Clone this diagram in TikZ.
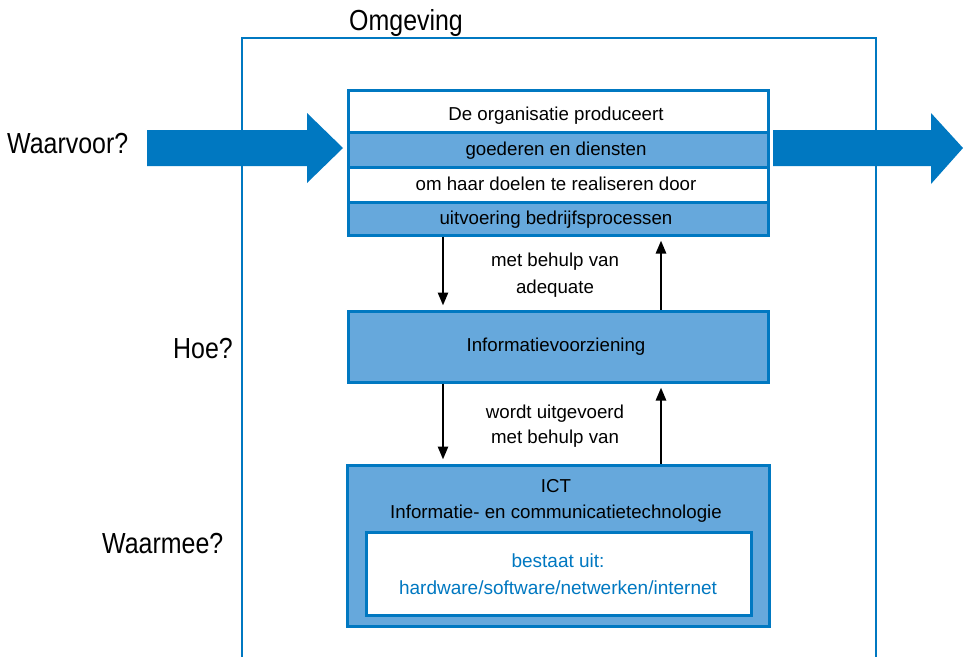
\documentclass[tikz,border=0pt]{standalone}
\usepackage{fontspec}
\setmainfont{Liberation Sans}
\newfontfamily\labelfont{Liberation Sans}[FakeStretch=0.86]
\usetikzlibrary{arrows.meta}

\definecolor{ictblue}{RGB}{0,120,193}
\definecolor{ictlight}{RGB}{102,168,220}

\tikzset{
  frameline/.style={draw=ictblue, line width=2.5pt},
  rowbox/.style={draw=ictblue, line width=3pt, minimum width=420pt, inner sep=0pt},
  boxtxt/.style={font=\fontsize{18.7}{22}\selectfont, anchor=base, inner sep=0pt},
  bluetxt/.style={boxtxt, text=ictblue, font=\fontsize{19}{22}\selectfont},
  biglabel/.style={font=\labelfont\fontsize{29}{34}\selectfont, anchor=base west, inner sep=0pt},
  bigarrow/.style={fill=ictblue},
  conn/.style={-{Triangle[length=13pt,width=10pt]}, line width=2.6pt, black, shorten >=4pt},
}

\begin{document}
\begin{tikzpicture}[x=1pt,y=-1pt]
\useasboundingbox (0,0) rectangle (963,656);

% environment frame (open at the bottom)
\draw[frameline] (242,660) -- (242,38) -- (876,38) -- (876,660);
\node[biglabel] (omg) at (349,30) {Omgeving};

% question labels
\node[biglabel] (waarvoor) at (7,153) {Waarvoor?};
\node[biglabel] (hoe) at (173,358) {Hoe?};
\node[biglabel] (waarmee) at (102,553) {Waarmee?};

% input and output arrows
\fill[bigarrow] (147,130) -- (307,130) -- (307,113) -- (343,148) -- (307,183) -- (307,166) -- (147,166) -- cycle;
\fill[bigarrow] (773,130) -- (931,130) -- (931,113) -- (963,148) -- (931,184) -- (931,166) -- (773,166) -- cycle;

% organisation stack
\node[rowbox, fill=white,    minimum height=42pt] (r1) at (558,111) {};
\node[rowbox, fill=ictlight, minimum height=35pt] (r2) at (558,149.5) {};
\node[rowbox, fill=white,    minimum height=35pt] (r3) at (558,184.5) {};
\node[rowbox, fill=ictlight, minimum height=33pt] (r4) at (558,218.5) {};
\node[boxtxt] (t1) at (556,120) {De organisatie produceert};
\node[boxtxt] (t2) at (556,155) {goederen en diensten};
\node[boxtxt] (t3) at (556,190) {om haar doelen te realiseren door};
\node[boxtxt] (t4) at (556,224) {uitvoering bedrijfsprocessen};

% information provision
\node[rowbox, fill=ictlight, minimum height=71pt] (info) at (558,346.5) {};
\node[boxtxt] (tinfo) at (556,351.7) {Informatievoorziening};

% ICT
\node[rowbox, fill=ictlight, minimum width=422pt, minimum height=161pt] (ict) at (558,545.5) {};
\node[boxtxt] (tict1) at (556,492) {ICT};
\node[boxtxt] (tict2) at (556,518) {Informatie- en communicatietechnologie};
\node[rowbox, fill=white, minimum width=385pt, minimum height=83pt] (parts) at (558.5,573.5) {};
\node[bluetxt] (tparts1) at (558,567) {bestaat uit:};
\node[bluetxt] (tparts2) at (558,594) {hardware/software/netwerken/internet};

% connectors between the layers
\draw[conn] ([xshift=-115pt]r4.south) -- ([xshift=-115pt]info.north);
\draw[conn] ([xshift=103pt]info.north) -- ([xshift=103pt]r4.south);
\draw[conn] ([xshift=-115pt]info.south) -- ([xshift=-115pt]ict.north);
\draw[conn] ([xshift=103pt]ict.north) -- ([xshift=103pt]info.south);

\node[boxtxt] (m1) at (555,266.7) {met behulp van};
\node[boxtxt] (m2) at (555,293) {adequate};
\node[boxtxt] (m3) at (555,418) {wordt uitgevoerd};
\node[boxtxt] (m4) at (555,443) {met behulp van};
\end{tikzpicture}
\end{document}
